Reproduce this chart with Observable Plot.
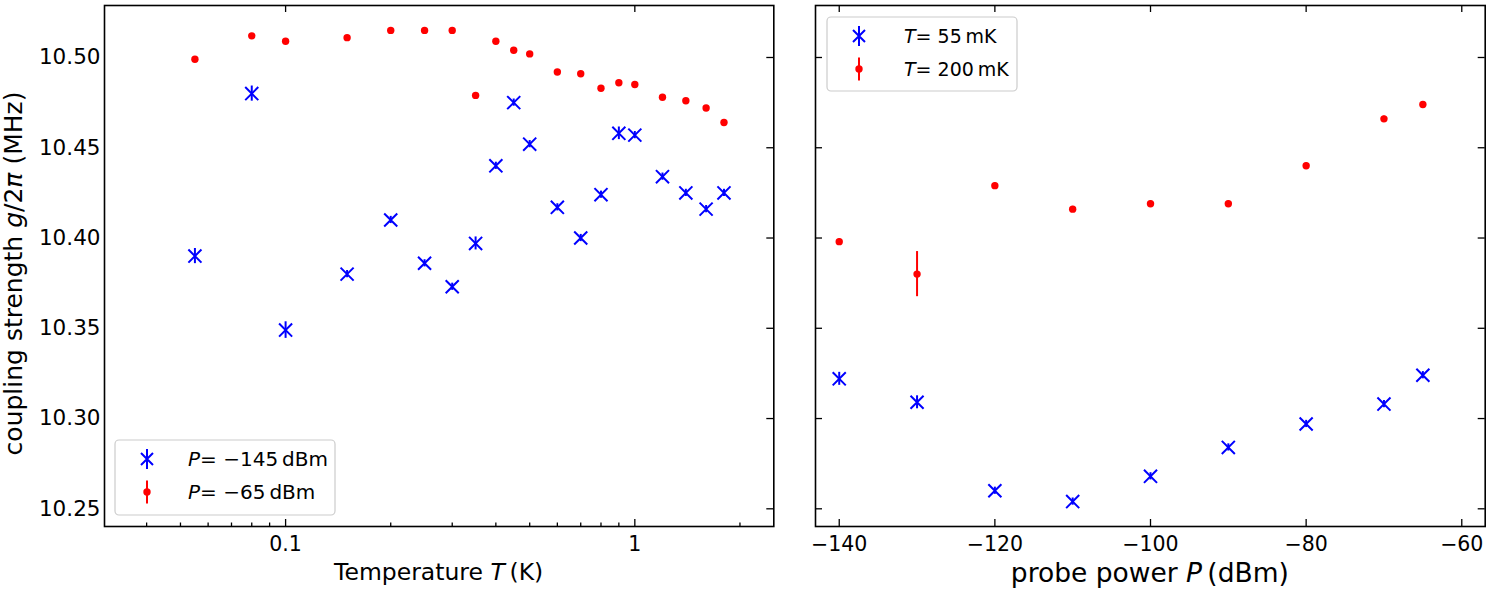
<!DOCTYPE html>
<html>
<head>
<meta charset="utf-8">
<script src="https://cdn.jsdelivr.net/npm/d3@7"></script>
<script src="https://cdn.jsdelivr.net/npm/@observablehq/plot@0.6"></script>
<style>
  html, body { margin: 0; padding: 0; background: #fff; }
  #fig { position: relative; width: 1491px; height: 591px; font-family: "DejaVu Sans", sans-serif; }
  #fig > div { position: absolute; top: 0; }
  svg { overflow: visible; }
</style>
</head>
<body>
<div id="fig">
  <div id="left" style="left:0px"></div>
  <div id="right" style="left:790px"></div>
</div>
<script>
// ---- Temperature sweep (left panel) ----
const temperatures = [0.055, 0.08, 0.1, 0.15, 0.2, 0.25, 0.3, 0.35, 0.4, 0.45, 0.5, 0.6, 0.7, 0.8, 0.9, 1.0, 1.2, 1.4, 1.6, 1.8];
// P = -145 dBm
const gLowPower   = [10.390, 10.480, 10.349, 10.380, 10.410, 10.386, 10.373, 10.397, 10.440, 10.475, 10.452, 10.417, 10.400, 10.424, 10.458, 10.457, 10.434, 10.425, 10.416, 10.425];
const errLowPower = [0.0042, 0.0042, 0.0046, 0.002, 0.002, 0.002, 0.002, 0.0036, 0.002, 0.002, 0.002, 0.002, 0.002, 0.002, 0.0035, 0.002, 0.002, 0.002, 0.002, 0.002];
// P = -65 dBm
const gHighPower   = [10.499, 10.512, 10.509, 10.511, 10.515, 10.515, 10.515, 10.479, 10.509, 10.504, 10.502, 10.492, 10.491, 10.483, 10.486, 10.485, 10.478, 10.476, 10.472, 10.464];
const errHighPower = [0.001, 0.001, 0.001, 0.001, 0.001, 0.001, 0.001, 0.001, 0.001, 0.001, 0.001, 0.001, 0.001, 0.001, 0.001, 0.001, 0.001, 0.001, 0.001, 0.001];

// ---- Power sweep (right panel) ----
const powers = [-140, -130, -120, -110, -100, -90, -80, -70, -65];
// T = 55 mK
const gCold   = [10.322, 10.309, 10.260, 10.254, 10.268, 10.284, 10.297, 10.308, 10.324];
const errCold = [0.0036, 0.0036, 0.002, 0.002, 0.002, 0.002, 0.002, 0.002, 0.002];
// T = 200 mK
const gWarm   = [10.398, 10.380, 10.429, 10.416, 10.419, 10.419, 10.440, 10.466, 10.474];
const errWarm = [0.0015, 0.0125, 0.0015, 0.0015, 0.0015, 0.0015, 0.0015, 0.0015, 0.0015];

// ---- Tick values ----
const gTicks = [10.25, 10.30, 10.35, 10.40, 10.45, 10.50];
const tMajorTicks = [0.1, 1];
const tMinorTicks = [0.04, 0.05, 0.06, 0.07, 0.08, 0.09, 0.2, 0.3, 0.4, 0.5, 0.6, 0.7, 0.8, 0.9, 2];
const pTicks = [-140, -120, -100, -80, -60];

const BLUE = "#0000ff", RED = "#ff0000";
const H = 591, MT = 5, MB = 65;
const plotH = H - MT - MB;
const gDomain = [10.2402, 10.5288];

const zip = (xs, ys, es, key) => xs.map((x, i) => ({[key]: x, g: ys[i], e: es[i]}));
const lowData  = zip(temperatures, gLowPower, errLowPower, "T");
const highData = zip(temperatures, gHighPower, errHighPower, "T");
const coldData = zip(powers, gCold, errCold, "P");
const warmData = zip(powers, gWarm, errWarm, "P");

const minus = d => (d < 0 ? "\u2212" : "") + Math.abs(d);
const tickStyle = {stroke: "black", strokeWidth: 1.3};

function seriesMarks(data, xKey, kind) {
  const color = kind === "x" ? BLUE : RED;
  const marks = [
    Plot.ruleX(data, {x: xKey, y1: d => d.g - d.e, y2: d => d.g + d.e, stroke: color, strokeWidth: 2})
  ];
  if (kind === "x") {
    marks.push(Plot.dot(data, {x: xKey, y: "g", symbol: "times", r: 6, stroke: color, strokeWidth: 2}));
  } else {
    marks.push(Plot.dot(data, {x: xKey, y: "g", r: 3.7, fill: color, stroke: null}));
  }
  return marks;
}

// ---- Left panel: g vs temperature ----
const LW = 790, LML = 104, LMR = 16.7;
const leftW = LW - LML - LMR;
const left = Plot.plot({
  width: LW, height: H,
  marginLeft: LML, marginRight: LMR, marginTop: MT, marginBottom: MB,
  style: {fontFamily: "DejaVu Sans, sans-serif", color: "#000", background: "transparent"},
  x: {type: "log", domain: [0.0303, 2.5], axis: null},
  y: {domain: gDomain, axis: null},
  marks: [
    Plot.axisY(gTicks, {anchor: "left", tickSize: 0, tickPadding: 4, fontSize: 21.5, tickFormat: d => d.toFixed(2), label: null}),
    Plot.axisX(tMajorTicks, {anchor: "bottom", tickSize: 0, tickPadding: 10, fontSize: 20.5, tickFormat: d => d === 1 ? "1" : "0.1", label: null}),
    Plot.tickX(tMajorTicks, {x: d => d, insetTop: plotH - 7, ...tickStyle}),
    Plot.tickX(tMinorTicks, {x: d => d, insetTop: plotH - 3.5, ...tickStyle}),
    Plot.tickX(tMajorTicks, {x: d => d, insetBottom: plotH - 7, ...tickStyle}),
    Plot.tickY(gTicks, {y: d => d, insetLeft: leftW - 7, ...tickStyle}),
    ...seriesMarks(lowData, "T", "x"),
    ...seriesMarks(highData, "T", "o"),
    Plot.frame({stroke: "black", strokeWidth: 1.6})
  ]
});
document.getElementById("left").appendChild(left);

// ---- Right panel: g vs probe power (shares the g axis) ----
const RW = 701, RML = 25, RMR = 6.3;
const rightW = RW - RML - RMR;
const right = Plot.plot({
  width: RW, height: H,
  marginLeft: RML, marginRight: RMR, marginTop: MT, marginBottom: MB,
  style: {fontFamily: "DejaVu Sans, sans-serif", color: "#000", background: "transparent"},
  x: {domain: [-143.05, -56.99], axis: null},
  y: {domain: gDomain, axis: null},
  marks: [
    Plot.axisX(pTicks, {anchor: "bottom", tickSize: 0, tickPadding: 10, fontSize: 20.5, tickFormat: minus, label: null}),
    Plot.tickX(pTicks, {x: d => d, insetTop: plotH - 7, ...tickStyle}),
    Plot.tickX(pTicks, {x: d => d, insetBottom: plotH - 7, ...tickStyle}),
    Plot.tickY(gTicks, {y: d => d, insetRight: rightW - 7, ...tickStyle}),
    Plot.tickY(gTicks, {y: d => d, insetLeft: rightW - 7, ...tickStyle}),
    ...seriesMarks(coldData, "P", "x"),
    ...seriesMarks(warmData, "P", "o"),
    Plot.frame({stroke: "black", strokeWidth: 1.6})
  ]
});
document.getElementById("right").appendChild(right);

// ---- Axis titles (with italic math symbols) ----
function richText(sel, parts) {
  parts.forEach(([s, it]) => {
    const t = sel.append("tspan").text(s);
    if (it) t.attr("font-style", "italic");
  });
}
const ls = d3.select(left), rs = d3.select(right);
richText(ls.append("text")
  .attr("transform", `translate(22,${MT + plotH / 2 + 8}) rotate(-90)`)
  .attr("text-anchor", "middle").attr("font-size", 25).attr("fill", "#000"),
  [["coupling strength ", false], ["g", true], ["/2", false], ["\u03c0", true], [" (MHz)", false]]);
richText(ls.append("text")
  .attr("x", LML + leftW / 2).attr("y", 580)
  .attr("text-anchor", "middle").attr("font-size", 23.5).attr("fill", "#000"),
  [["Temperature ", false], ["T", true], ["\u2009(K)", false]]);
richText(rs.append("text")
  .attr("x", RML + rightW / 2).attr("y", 582)
  .attr("text-anchor", "middle").attr("font-size", 26.5).attr("fill", "#000"),
  [["probe power ", false], ["P", true], ["\u2009(dBm)", false]]);

// ---- Legends ----
function legend(svg, box, entries, fontSize) {
  const g = svg.append("g");
  g.append("rect").attr("x", box.x).attr("y", box.y).attr("width", box.w).attr("height", box.h)
    .attr("rx", 4).attr("fill", "white").attr("fill-opacity", 0.8)
    .attr("stroke", "#cccccc").attr("stroke-width", 1.2);
  entries.forEach(e => {
    const mx = box.mx, my = e.y;
    if (e.kind === "x") {
      g.append("line").attr("x1", mx).attr("x2", mx).attr("y1", my - 10).attr("y2", my + 10)
        .attr("stroke", BLUE).attr("stroke-width", 2);
      g.append("path").attr("d", `M${mx - 6},${my - 6}L${mx + 6},${my + 6}M${mx - 6},${my + 6}L${mx + 6},${my - 6}`)
        .attr("stroke", BLUE).attr("stroke-width", 2).attr("fill", "none");
    } else {
      g.append("line").attr("x1", mx).attr("x2", mx).attr("y1", my - 11.5).attr("y2", my + 11.5)
        .attr("stroke", RED).attr("stroke-width", 2);
      g.append("circle").attr("cx", mx).attr("cy", my).attr("r", 3.7).attr("fill", RED);
    }
    richText(g.append("text").attr("x", box.tx).attr("y", my + 7).attr("text-anchor", "start")
      .attr("font-size", fontSize).attr("fill", "#000"), e.parts);
  });
}
legend(ls, {x: 115, y: 440, w: 220, h: 75, mx: 147, tx: 188}, [
  {kind: "x", y: 459, parts: [["P", true], ["= \u2212145\u2009dBm", false]]},
  {kind: "o", y: 492, parts: [["P", true], ["= \u221265\u2009dBm", false]]}
], 20);
legend(rs, {x: 37, y: 17, w: 190, h: 74, mx: 69, tx: 114}, [
  {kind: "x", y: 36, parts: [["T", true], ["= 55\u2009mK", false]]},
  {kind: "o", y: 69, parts: [["T", true], ["= 200\u2009mK", false]]}
], 19);
</script>
</body>
</html>
